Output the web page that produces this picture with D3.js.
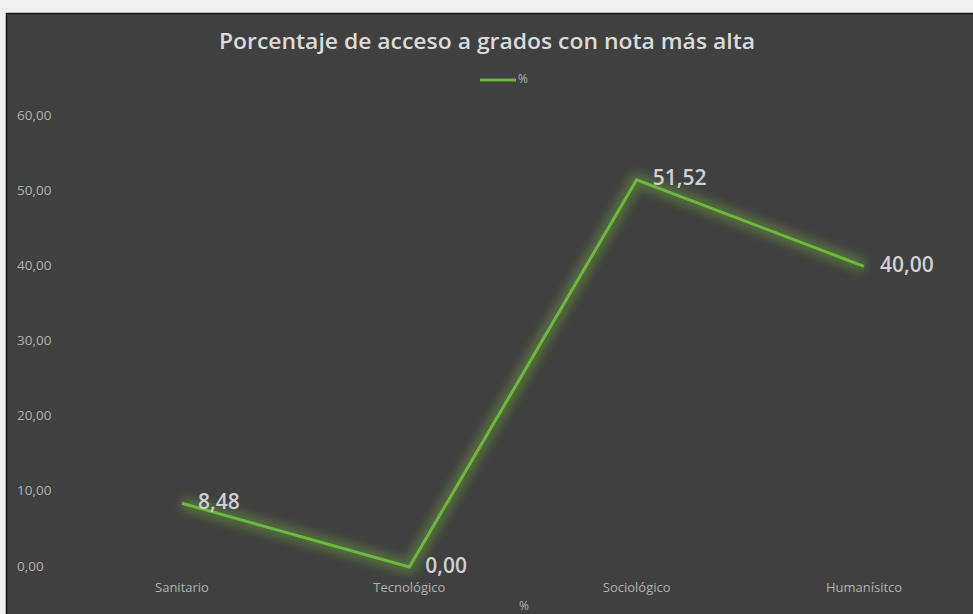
<!DOCTYPE html>
<meta charset="utf-8">
<html>
<head>
  <title>Porcentaje de acceso a grados</title>
  <style>
    body { margin: 0; background: #f0f0f0; }
    svg { display: block; }
  </style>
</head>
<body>
  <svg id="chart" width="973" height="614"></svg>

  <script src="https://d3js.org/d3.v7.min.js"></script>
  <script>

    // data
    var categories = ["Sanitario", "Tecnológico", "Sociológico", "Humanísitco"]
    var values = [8.48, 0.00, 51.52, 40.00]
    var yTicks = [0, 10, 20, 30, 40, 50, 60]
    var seriesName = "%"
    var chartTitle = "Porcentaje de acceso a grados con nota más alta"

    var svg = d3.select("#chart"),
      width = +svg.attr("width"),
      height = +svg.attr("height");

    var fmt = function (d) { return d.toFixed(2).replace(".", ",") }

    // dark chart panel
    svg.append("rect")
      .attr("x", 6.5).attr("y", 13.5)
      .attr("width", width).attr("height", height)
      .attr("fill", "#404040")
      .attr("stroke", "#111").attr("stroke-width", 1.5)

    // glow filter for the line
    var defs = svg.append("defs")
    var f = defs.append("filter").attr("id", "glow")
      .attr("x", "-20%").attr("y", "-20%").attr("width", "140%").attr("height", "140%")
    f.append("feGaussianBlur").attr("in", "SourceGraphic").attr("stdDeviation", 5)

    // scales
    var x = d3.scalePoint()
      .domain(categories)
      .range([182, 864])

    var y = d3.scaleLinear()
      .domain([0, 60])
      .range([567, 116])

    // y tick labels (no axis line, no gridlines)
    svg.append("g")
      .selectAll("text")
      .data(yTicks)
      .enter()
      .append("text")
      .attr("x", 17)
      .attr("y", function (d) { return y(d) })
      .attr("dominant-baseline", "middle")
      .style("font-family", "'Open Sans', sans-serif")
      .style("font-size", "13.5px")
      .style("fill", "#b0b0b0")
      .text(fmt)

    // x category labels
    svg.append("g")
      .selectAll("text")
      .data(categories)
      .enter()
      .append("text")
      .attr("x", function (d) { return x(d) })
      .attr("y", 589)
      .attr("text-anchor", "middle")
      .attr("dominant-baseline", "middle")
      .style("font-family", "'Open Sans', sans-serif")
      .style("font-size", "13px")
      .style("fill", "#b0b0b0")
      .text(function (d) { return d })

    // x axis title (sits at the bottom edge)
    svg.append("text")
      .attr("x", 524).attr("y", 607)
      .attr("text-anchor", "middle")
      .attr("dominant-baseline", "middle")
      .style("font-family", "'Open Sans', sans-serif")
      .style("font-size", "12px")
      .style("fill", "#b0b0b0")
      .text(seriesName)

    // line
    var line = d3.line()
      .x(function (d, i) { return x(categories[i]) })
      .y(function (d) { return y(d) })

    svg.append("path")
      .datum(values)
      .attr("d", line)
      .attr("fill", "none")
      .attr("stroke", "#6a9a3a")
      .attr("stroke-opacity", 0.5)
      .attr("stroke-width", 14)
      .attr("stroke-linejoin", "round")
      .attr("filter", "url(#glow)")

    svg.append("path")
      .datum(values)
      .attr("d", line)
      .attr("fill", "none")
      .attr("stroke", "#6bb83c")
      .attr("stroke-width", 3)
      .attr("stroke-linejoin", "miter")

    // data labels
    svg.append("g")
      .selectAll("text")
      .data(values)
      .enter()
      .append("text")
      .attr("x", function (d, i) { return x(categories[i]) + 16 })
      .attr("y", function (d) { return y(d) })
      .attr("dominant-baseline", "middle")
      .style("font-family", "'Open Sans', sans-serif")
      .style("font-size", "21px")
      .style("font-weight", "600")
      .style("fill", "#d0d0d0")
      .text(fmt)

    // title
    svg.append("text")
      .attr("x", 487).attr("y", 43)
      .attr("text-anchor", "middle")
      .attr("dominant-baseline", "middle")
      .style("font-family", "'Open Sans', sans-serif")
      .style("font-size", "22px")
      .style("font-weight", "600")
      .style("fill", "#dadada")
      .attr("textLength", 536)
      .attr("lengthAdjust", "spacingAndGlyphs")
      .text(chartTitle)

    // legend
    var legend = svg.append("g")
    legend.append("line")
      .attr("x1", 480).attr("x2", 516)
      .attr("y1", 80).attr("y2", 80)
      .attr("stroke", "#6bb83c")
      .attr("stroke-width", 3)
    legend.append("text")
      .attr("x", 518).attr("y", 80)
      .attr("dominant-baseline", "middle")
      .style("font-family", "'Open Sans', sans-serif")
      .style("font-size", "12px")
      .style("fill", "#b0b0b0")
      .text(seriesName)

  </script>
</body>
</html>
